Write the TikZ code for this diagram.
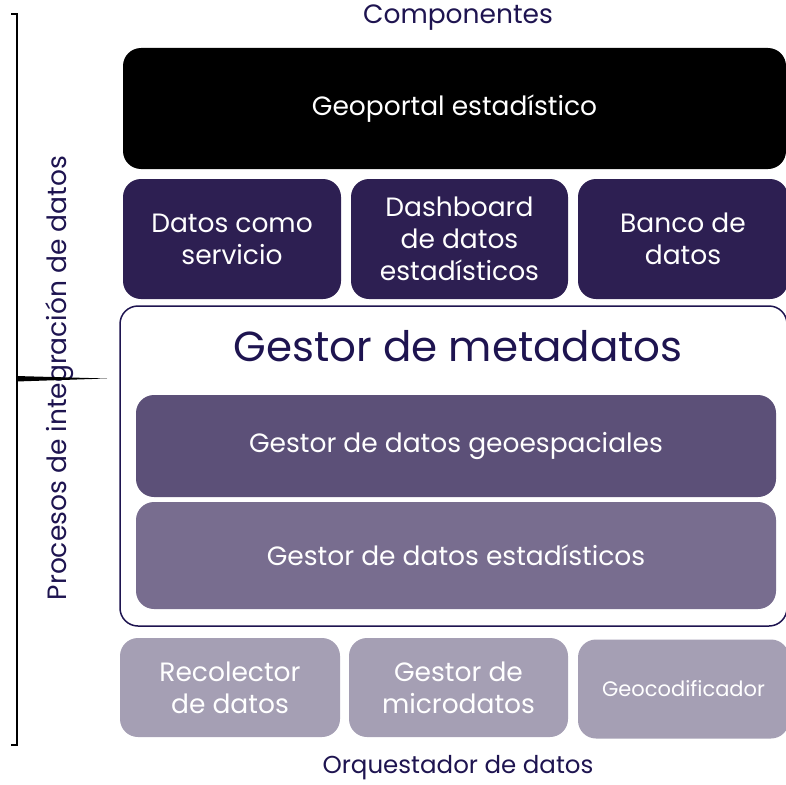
\documentclass[tikz,border=0pt]{standalone}
\usepackage{fontspec}
\setmainfont{Poppins}
\definecolor{navy}{HTML}{1E1450}
\definecolor{capa}{HTML}{2D1F52}
\definecolor{geo}{HTML}{5C5078}
\definecolor{est}{HTML}{786D8F}
\definecolor{orq}{HTML}{A59FB4}
\tikzset{
  caja/.style={rounded corners=18pt, inner sep=0pt, text=white, align=center,
    font=\fontsize{26.5}{32}\selectfont},
  rotulo/.style={text=navy, font=\fontsize{26.5}{30}\selectfont}
}
\begin{document}
\begin{tikzpicture}[x=1pt, y=-1pt]
\useasboundingbox (0,0) rectangle (786,784);
% encabezados
\node[rotulo] (comp) at (458,18) {Componentes};
\node[rotulo, font=\fontsize{24.5}{28}\selectfont] (orq) at (458,768) {Orquestador de datos};
\node[rotulo, rotate=90] (proc) at (60,378) {Procesos de integración de datos};
% capa superior
\node[caja, fill=black, minimum width=663pt, minimum height=121pt] (geoportal) at (454.5,108.5) {Geoportal estadístico};
\node[caja, fill=capa, minimum width=218pt, minimum height=120pt] (daas) at (232,239) {Datos como\\servicio};
\node[caja, fill=capa, minimum width=217pt, minimum height=120pt] (dash) at (459.5,239) {Dashboard\\de datos\\estadísticos};
\node[caja, fill=capa, minimum width=210pt, minimum height=120pt] (banco) at (683,239) {Banco de\\datos};
% gestor de metadatos
\node[draw=navy, line width=1.5pt, rounded corners=18pt, minimum width=667pt, minimum height=320pt] (meta) at (453.5,466) {};
\node[text=navy, font=\fontsize{42}{44}\selectfont] (metatit) at (458,346) {Gestor de metadatos};
\node[caja, fill=geo, minimum width=640pt, minimum height=102pt] (geoesp) at (456,446) {Gestor de datos geoespaciales};
\node[caja, fill=est, minimum width=640pt, minimum height=107pt] (estad) at (456,555.5) {Gestor de datos estadísticos};
% orquestador
\node[caja, fill=orq, minimum width=220pt, minimum height=99pt] (recol) at (230,687.5) {Recolector\\de datos};
\node[caja, fill=orq, minimum width=219pt, minimum height=99pt] (micro) at (458.5,687.5) {Gestor de\\microdatos};
\node[caja, fill=orq, minimum width=211pt, minimum height=99pt, font=\fontsize{21}{24}\selectfont] (geocod) at (683.5,689) {Geocodificador};
% llave
\draw[line width=2.2pt] (11,14) -- (17,14) -- (17,745) -- (11,745);
\fill (16,376) -- (107,378.5) -- (16,381.5) -- cycle;
\end{tikzpicture}
\end{document}
